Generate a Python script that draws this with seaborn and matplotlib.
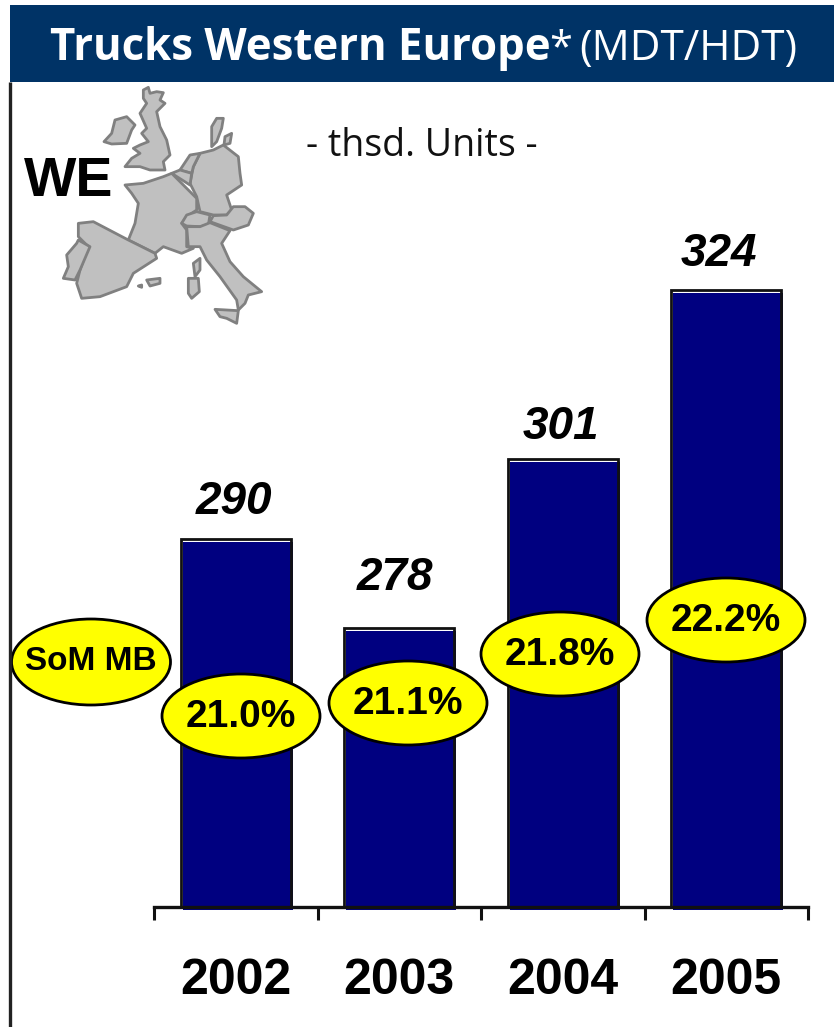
import matplotlib
matplotlib.use('Agg')
import matplotlib.pyplot as plt
import matplotlib.transforms as mtrans
from matplotlib.patches import Ellipse, Polygon, Rectangle
import seaborn as sns
import pandas as pd

years = ['2002', '2003', '2004', '2005']
units = [290, 278, 301, 324]
som = ['21.0%', '21.1%', '21.8%', '22.2%']

W, H = 834, 1027
NAVY = '#000080'

sns.set_style('white')
plt.rcParams['font.family'] = ['Liberation Sans', 'DejaVu Sans']

df = pd.DataFrame({'year': years, 'units': units})

fig = plt.figure(figsize=(W / 100, H / 100), dpi=100)
# bar axes: x 154..808, baseline at y=907
ax = fig.add_axes([154 / W, 1 - 907 / H, 654 / W, 825 / H])
ax.patch.set_alpha(0)

sns.barplot(x='year', y='units', data=df, color='white', saturation=1, width=0.675, ax=ax)
n_back = len(ax.patches)
sns.barplot(x='year', y='units', data=df, color=NAVY, saturation=1, width=0.675, ax=ax)
n_fill = len(ax.patches)
sns.barplot(x='year', y='units', data=df, color='white', saturation=1, width=0.675, ax=ax)

# navy fill sits a little right of and below its outline, stops just under the axis
shift = mtrans.ScaledTranslation(2 / 100, -3 / 100, fig.dpi_scale_trans)
for p in ax.patches[n_back:n_fill]:
    p.set_transform(ax.transData + shift)
    p.set_clip_box(mtrans.Bbox([[0, H - 910], [W, H]]))
    p.set_linewidth(0)
    p.set_zorder(3)
for p in ax.patches[:n_back]:
    p.set_linewidth(0)
    p.set_zorder(2)
for p in ax.patches[n_fill:]:
    p.set_facecolor('none')
    p.set_edgecolor('#111111')
    p.set_linewidth(2)
    p.set_zorder(4)

ax.set_ylim(240, 240 + 825 / 7.35)
ax.set_xlim(-0.5, 3.5)
ax.set_xlabel('')
ax.set_ylabel('')
ax.set_yticks([])

# value labels above the bars
labels = ax.bar_label(ax.containers[0], labels=[str(v) for v in units], padding=11,
                      fontsize=33, fontweight='bold', fontstyle='italic', color='black')
nudges = [(-1, 0), (-3, 9), (-1, -4), (-5, -1)]
for t, (dx, dy) in zip(labels, nudges):
    t.xyann = (t.xyann[0] + dx, t.xyann[1] + dy)

# ticks sit between the categories, labels in the middle
ax.set_xticks([-0.5, 0.5, 1.5, 2.5, 3.5], labels=[''] * 5)
ax.set_xticks(range(len(years)), labels=years, minor=True)
ax.tick_params(axis='x', which='major', direction='out', length=9, width=2.2, bottom=True, color='#111111')
ax.tick_params(axis='x', which='minor', length=0, pad=37, labelsize=36, labelcolor='black')
for lab in ax.get_xticklabels(minor=True):
    lab.set_fontweight('bold')

for s in ['top', 'left', 'right']:
    ax.spines[s].set_visible(False)
ax.spines['bottom'].set_linewidth(2.4)
ax.spines['bottom'].set_color('#111111')
ax.spines['bottom'].set_zorder(5)

# overlay in pixel coordinates for header, map and ovals
ov = fig.add_axes([0, 0, 1, 1], zorder=5)
ov.set_xlim(0, W)
ov.set_ylim(H, 0)
ov.axis('off')
ov.patch.set_alpha(0)

ov.add_patch(Rectangle((10, 5), 824, 77, facecolor='#003366', edgecolor='none'))
ov.plot([10, 10], [82, H], color='#222222', lw=2.4, solid_capstyle='butt')
ov.text(50, 60, 'Trucks Western Europe', color='white', fontsize=31.5, fontweight='bold',
        va='baseline', ha='left', family=['Open Sans', 'DejaVu Sans'])
ov.text(549, 60, '*', color='white', fontsize=30, va='baseline', ha='left',
        family=['Open Sans', 'DejaVu Sans'])
ov.text(797, 60, '(MDT/HDT)', color='white', fontsize=30.5, va='baseline', ha='right',
        family=['Open Sans', 'DejaVu Sans'])
ov.text(422, 146, '- thsd. Units -', fontsize=27, va='center', ha='center',
        family=['Open Sans', 'DejaVu Sans'], color='#111111')
ov.text(69, 182, 'WE', fontsize=40, fontweight='bold', va='center', ha='center', color='black')

# outline, crop px at 3x with origin (0,70)
shapes = [
    [(430, 60), (445, 52), (450, 70), (470, 65), (490, 68), (480, 90), (495, 100), (470, 125), (480, 170), (500, 210),
     (510, 255), (490, 275), (495, 300), (450, 300), (420, 290), (375, 290), (395, 265), (420, 250), (400, 235),
     (420, 225), (445, 215), (425, 190), (440, 175), (420, 130), (440, 100), (430, 85)],
    [(345, 150), (380, 140), (405, 165), (395, 180), (380, 220), (335, 222), (312, 215), (335, 190)],
    [(635, 170), (650, 145), (670, 145), (665, 175), (650, 215), (635, 230)],
    [(675, 200), (695, 190), (690, 220), (672, 225)],
    [(600, 250), (640, 240), (670, 225), (715, 260), (720, 310), (725, 345), (680, 375), (695, 420), (680, 435),
     (640, 435), (600, 425), (590, 380), (570, 340), (580, 290)],
    [(540, 300), (570, 255), (600, 250), (580, 290), (575, 310)],
    [(515, 310), (540, 300), (575, 310), (570, 345)],
    [(375, 345), (430, 340), (490, 320), (515, 310), (590, 385), (590, 420), (560, 440), (545, 460), (560, 480),
     (560, 530), (580, 535), (545, 550), (490, 530), (465, 550), (385, 510), (405, 460), (415, 400), (395, 370)],
    [(560, 435), (590, 425), (630, 435), (625, 465), (600, 470), (560, 468), (545, 460)],
    [(680, 435), (700, 410), (735, 410), (760, 430), (745, 465), (700, 480), (630, 455), (640, 437)],
    [(560, 470), (600, 470), (630, 458), (690, 482), (665, 520), (690, 575), (730, 620), (785, 665), (745, 675),
     (735, 700), (715, 720), (710, 690), (660, 620), (620, 570), (600, 530), (565, 530)],
    [(645, 718), (715, 722), (710, 760), (680, 745), (660, 740)],
    [(565, 625), (595, 625), (598, 665), (575, 685), (565, 670)],
    [(580, 580), (600, 565), (600, 600), (585, 620)],
    [(235, 460), (280, 455), (385, 510), (465, 550), (470, 565), (400, 610), (380, 650), (300, 680), (245, 685),
     (230, 640), (240, 600), (265, 530), (235, 500)],
    [(235, 510), (270, 530), (240, 600), (225, 630), (190, 625), (205, 590), (200, 555), (230, 520)],
    [(415, 648), (425, 645), (425, 652)],
    [(440, 630), (480, 625), (480, 640), (450, 648)],
]
for s in shapes:
    pts = [(x / 3, 70 + y / 3) for x, y in s]
    ov.add_patch(Polygon(pts, closed=True, facecolor='#C0C0C0', edgecolor='#808080', lw=2, joinstyle='round'))

# SoM ovals
oval_x = [241, 408, 560, 726]
oval_y = [716, 703, 654, 620]
for x, y, t in zip(oval_x, oval_y, som):
    ov.add_patch(Ellipse((x, y), 158, 84, facecolor='#FFFF00', edgecolor='black', lw=2))
    ov.text(x, y + 1, t, fontsize=28, fontweight='bold', ha='center', va='center', color='black')
ov.add_patch(Ellipse((91, 662), 159, 86, facecolor='#FFFF00', edgecolor='black', lw=2))
ov.text(91, 662, 'SoM MB', fontsize=24, fontweight='bold', ha='center', va='center', color='black')

plt.savefig('out.png', dpi=100)
